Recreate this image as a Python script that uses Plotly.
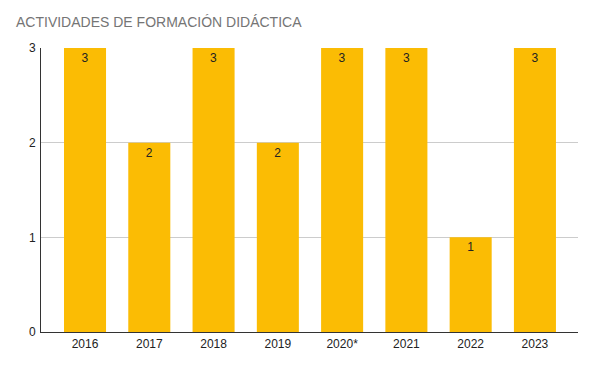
import plotly.graph_objects as go

years = ["2016", "2017", "2018", "2019", "2020*", "2021", "2022", "2023"]
values = [3, 2, 3, 2, 3, 3, 1, 3]
y_ticks = [0, 1, 2, 3]

fig = go.Figure()
fig.add_trace(go.Bar(
    x=list(range(len(years))), y=values,
    marker=dict(color="#FBBC04", line=dict(width=0)),
    width=0.654,
    text=[str(v) for v in values],
    textposition="inside", insidetextanchor="end",
    textfont=dict(family="Liberation Sans, Arial", size=12, color="#222222"),
    constraintext="none",
))
fig.update_layout(
    width=595, height=367,
    margin=dict(l=41, r=17, t=48, b=35),
    paper_bgcolor="white", plot_bgcolor="white",
    showlegend=False,
    title=dict(text="ACTIVIDADES DE FORMACIÓN DIDÁCTICA", x=16/595, xanchor="left",
               y=1-22/367, yanchor="middle",
               font=dict(family="Liberation Sans, Arial", size=14, color="#757575")),
    font=dict(family="Liberation Sans, Arial", size=12, color="#222222"),
)
fig.update_xaxes(
    tickmode="array", tickvals=list(range(len(years))), ticktext=years,
    range=[-0.685, 7.67], showgrid=False, showline=True, linecolor="#333333",
    linewidth=1, ticks="", tickfont=dict(size=12, color="#222222"),
    ticklabelstandoff=1,
)
fig.update_yaxes(
    range=[0, 3], tickvals=y_ticks, showgrid=True, gridcolor="#CCCCCC",
    showline=True, linecolor="#333333", linewidth=1, ticks="", zeroline=False,
    tickfont=dict(size=12, color="#222222"), ticklabelstandoff=2,
)
fig.write_html("out.html", config={"displayModeBar": False},
               post_script="document.body.style.margin='0';document.body.style.padding='0';")
